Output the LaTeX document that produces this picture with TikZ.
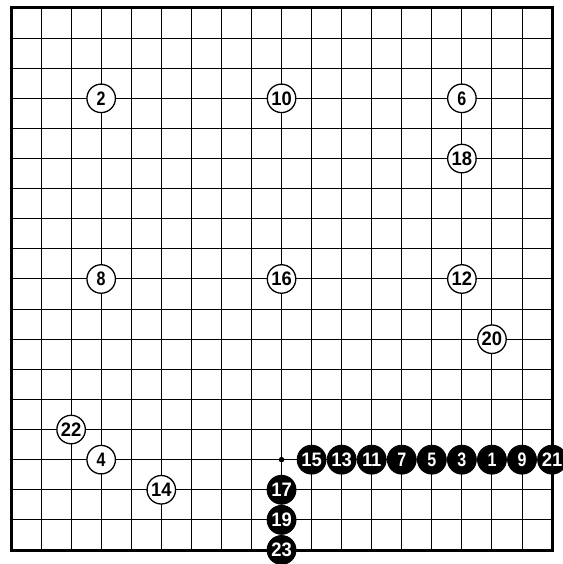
\documentclass[tikz,border=0pt]{standalone}
\usepackage{fontspec}
\newfontfamily\gofont{Liberation Sans}
\newcommand\twod[1]{\scalebox{1.15}[1]{#1}}
\newcommand\gostone[5]{\node[#1] (#2) at ({11+30.06*#3},{8+30.11*#4}) {\scalebox{1.6}[1.95]{\gofont\bfseries #5}};}
\tikzset{
  wst/.style={circle, draw=black, line width=1.3pt, fill=white, minimum size=28.5pt, inner sep=0pt},
  bst/.style={circle, draw=black, fill=black, line width=0.8pt, minimum size=29pt, inner sep=0pt, text=white},
  gridline/.style={line width=1pt, black},
  frameline/.style={line width=3pt, black, line join=miter},
}
\begin{document}
\begin{tikzpicture}[x=1pt, y=-1pt]
\useasboundingbox (0,0) rectangle (562,564);
\fill[white] (0,0) rectangle (562,564);
% grid
\foreach \i in {1,...,17} {
  \draw[gridline] ({11+30.06*\i},8) -- ({11+30.06*\i},550);
  \draw[gridline] (11,{8+30.11*\i}) -- (552,{8+30.11*\i});
}
\draw[frameline] (11,8) rectangle (552,550);
% hoshi
\node[circle, fill=black, minimum size=5.5pt, inner sep=0pt] (hoshi) at ({11+30.06*9},{8+30.11*15}) {};
% white stones
\gostone{wst}{w2}{3}{3}{2}
\gostone{wst}{w10}{9}{3}{\twod{10}}
\gostone{wst}{w6}{15}{3}{6}
\gostone{wst}{w18}{15}{5}{\twod{18}}
\gostone{wst}{w8}{3}{9}{8}
\gostone{wst}{w16}{9}{9}{\twod{16}}
\gostone{wst}{w12}{15}{9}{\twod{12}}
\gostone{wst}{w20}{16}{11}{\twod{20}}
\gostone{wst}{w22}{2}{14}{\twod{22}}
\gostone{wst}{w4}{3}{15}{4}
\gostone{wst}{w14}{5}{16}{\twod{14}}
% black stones
\gostone{bst}{b15}{10}{15}{\twod{15}}
\gostone{bst}{b13}{11}{15}{\twod{13}}
\gostone{bst}{b11}{12}{15}{\twod{11}}
\gostone{bst}{b7}{13}{15}{7}
\gostone{bst}{b5}{14}{15}{5}
\gostone{bst}{b3}{15}{15}{3}
\gostone{bst}{b1}{16}{15}{1}
\gostone{bst}{b9}{17}{15}{9}
\gostone{bst}{b21}{18}{15}{\twod{21}}
\gostone{bst}{b17}{9}{16}{\twod{17}}
\gostone{bst}{b19}{9}{17}{\twod{19}}
\gostone{bst}{b23}{9}{18}{\twod{23}}
\end{tikzpicture}
\end{document}
